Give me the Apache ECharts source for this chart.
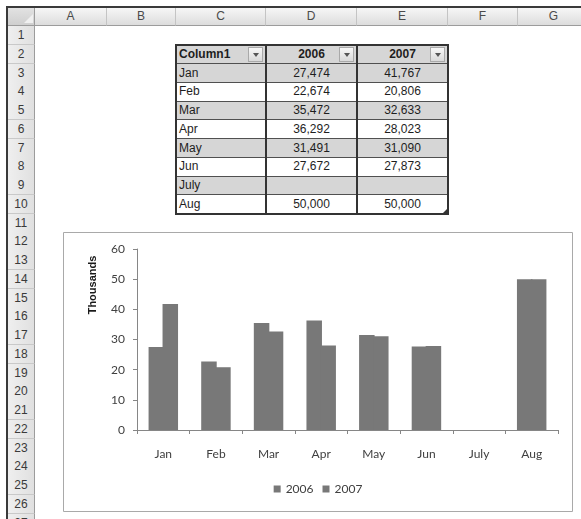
<!DOCTYPE html>
<html>
<head>
<meta charset="utf-8">
<script src="https://cdn.jsdelivr.net/npm/echarts/dist/echarts.min.js"></script>
<style>
  html, body { margin:0; padding:0; background:#fff; width:581px; height:519px; overflow:hidden; }
  #sheet { position:absolute; left:0; top:0; width:581px; height:519px; overflow:hidden; font-family:"Liberation Sans", Arial, sans-serif; }
  .abs { position:absolute; box-sizing:border-box; }
  .colhead { background:linear-gradient(#f6f6f6,#dddddd); border-right:1px solid #c4c4c4; border-bottom:1px solid #9c9c9c; color:#4a4a4a; font-size:12px; text-align:center; }
  .rowhead { background:linear-gradient(90deg,#efefef,#e0e0e0); border-bottom:1px solid #c9c9c9; border-right:1px solid #9c9c9c; color:#3a3a3a; font-size:12px; text-align:center; }
  .cell { font-size:12px; color:#1e1e1e; white-space:nowrap; overflow:hidden; }
  .btn { background:linear-gradient(#f7f7f7,#d9d9d9); border:1px solid #a9a9a9; width:15px; height:15px; }
  .btn:after { content:""; position:absolute; left:4px; top:5px; border-left:3px solid transparent; border-right:3px solid transparent; border-top:4px solid #555; }
  #chart { position:absolute; left:63px; top:232px; width:510px; height:280px; }
</style>
</head>
<body>
<div id="sheet"></div>
<div id="chart"></div>
<script>
// ---- data ----
const months = ['Jan', 'Feb', 'Mar', 'Apr', 'May', 'Jun', 'July', 'Aug'];
const values2006 = [27474, 22674, 35472, 36292, 31491, 27672, null, 50000];
const values2007 = [41767, 20806, 32633, 28023, 31090, 27873, null, 50000];
const seriesNames = ['2006', '2007'];
const headerFirst = 'Column1';
const columnLetters = ['A', 'B', 'C', 'D', 'E', 'F', 'G'];
const rowCount = 27;
const yAxisTitle = 'Thousands';
const yMin = 0, yMax = 60000, yStep = 10000;

// ---- spreadsheet (HTML) ----
const sheet = document.getElementById('sheet');
const colEdges = [35, 107, 176, 266, 357, 448, 518, 590];
const rowH = 18.75;
const headTop = 8, headBottom = 26;
const rowTop = n => headBottom + (n - 1) * rowH;
function el(cls, x, y, w, h, html, extra) {
  const d = document.createElement('div');
  d.className = 'abs ' + cls;
  d.style.left = x + 'px'; d.style.top = y + 'px';
  d.style.width = w + 'px'; d.style.height = h + 'px';
  if (html !== undefined) d.innerHTML = html;
  if (extra) Object.assign(d.style, extra);
  sheet.appendChild(d);
  return d;
}
// outer dark frame
el('', 6, 6, 600, 2, undefined, {background:'#3a3a3a'});
el('', 6, 6, 2, 600, undefined, {background:'#3a3a3a'});
// corner
el('', 8, headTop, 27, headBottom - headTop, undefined, {background:'linear-gradient(#e2e2e2,#cfcfcf)', borderRight:'1px solid #9c9c9c', borderBottom:'1px solid #9c9c9c'});
el('', 24, 14, 0, 0, undefined, {borderLeft:'9px solid transparent', borderBottom:'9px solid #f0f0f0'});
// column headers
columnLetters.forEach((c, i) => {
  el('colhead', colEdges[i], headTop, colEdges[i + 1] - colEdges[i], headBottom - headTop, c, {lineHeight:(headBottom - headTop - 1) + 'px'});
});
// row headers
for (let r = 1; r <= rowCount; r++) {
  el('rowhead', 8, rowTop(r), 27, rowH + 0.5, String(r), {lineHeight:rowH + 'px'});
}
// table C2:E10
const tX = [colEdges[2], colEdges[3], colEdges[4], colEdges[5]];
const tTop = rowTop(2), tBottom = rowTop(2 + months.length + 1);
const fmt = v => (v === null || v === undefined) ? '' : v.toLocaleString('en-US');
const rowsData = [[headerFirst, seriesNames[0], seriesNames[1]]].concat(
  months.map((m, i) => [m, fmt(values2006[i]), fmt(values2007[i])]));
rowsData.forEach((row, ri) => {
  const y = rowTop(2 + ri);
  const gray = ri === 0 || ((ri - 1) % 2 === 0);
  const bg = gray ? '#d6d6d6' : '#ffffff';
  row.forEach((txt, ci) => {
    const isHead = ri === 0;
    const st = {background:bg, lineHeight:rowH + 'px', padding:'0 3px'};
    if (isHead) st.fontWeight = 'bold';
    st.textAlign = (ci === 0) ? 'left' : 'center';
    el('cell', tX[ci], y, tX[ci + 1] - tX[ci], rowH, txt, st);
    if (isHead) el('btn', tX[ci + 1] - 18, y + 2, 15, 15);
  });
});
// table lines
for (let ri = 1; ri <= months.length; ri++) {
  el('', tX[0], rowTop(2 + ri) - 0.5, tX[3] - tX[0], 1, undefined, {background:'#505050'});
}
el('', tX[1] - 1, tTop, 2, tBottom - tTop, undefined, {background:'#333'});
el('', tX[2] - 1, tTop, 2, tBottom - tTop, undefined, {background:'#333'});
el('', tX[0] - 1, tTop - 1, tX[3] - tX[0] + 2, tBottom - tTop + 2, undefined, {border:'2px solid #333'});
el('', tX[3] - 5, tBottom - 5, 0, 0, undefined, {borderLeft:'4px solid transparent', borderBottom:'4px solid #333'});

// ---- chart (ECharts) ----
const chart = echarts.init(document.getElementById('chart'), null, {renderer:'canvas'});
const barColor = '#787878';
const txtColor = '#404040';
const font = 'Lato, "Open Sans", sans-serif';
chart.setOption({
  animation: false,
  backgroundColor: '#ffffff',
  textStyle: {fontFamily: font},
  grid: {left: 74, right: 15, top: 17, bottom: 82, outerBoundsMode: 'none'},
  legend: {
    data: seriesNames, bottom: 12, left: 'center', icon: 'rect',
    itemWidth: 7, itemHeight: 7, itemGap: 9,
    textStyle: {fontSize: 12, color: txtColor, fontFamily: font}
  },
  xAxis: {
    type: 'category', data: months,
    axisLine: {show: true, lineStyle: {color: '#868686', width: 1}},
    axisTick: {show: true, length: 4, lineStyle: {color: '#868686'}},
    axisLabel: {interval: 0, margin: 18, fontSize: 12, color: txtColor, fontFamily: font},
    splitLine: {show: false}
  },
  yAxis: {
    type: 'value', min: yMin, max: yMax, interval: yStep,
    axisLine: {show: true, lineStyle: {color: '#868686', width: 1}},
    axisTick: {show: true, length: 4, lineStyle: {color: '#868686'}},
    axisLabel: {margin: 12, fontSize: 12, color: txtColor, fontFamily: font, formatter: v => String(v / 1000)},
    splitLine: {show: false}
  },
  graphic: [
    {type: 'rect', shape: {x: 0.5, y: 0.5, width: 509, height: 279}, style: {fill: 'none', stroke: '#a9a9a9', lineWidth: 1}, silent: true},
    {type: 'text', x: 30, y: 53, rotation: Math.PI / 2,
     style: {text: yAxisTitle, fill: '#1a1a1a', font: 'bold 11px "Liberation Sans", Arial, sans-serif', textAlign: 'center', textVerticalAlign: 'middle'}}
  ],
  series: [
    {name: seriesNames[0], type: 'bar', data: values2006, itemStyle: {color: barColor}, barGap: '-10%', barCategoryGap: '44%'},
    {name: seriesNames[1], type: 'bar', data: values2007, itemStyle: {color: barColor}, barGap: '-10%', barCategoryGap: '44%'}
  ]
});
</script>
</body>
</html>
